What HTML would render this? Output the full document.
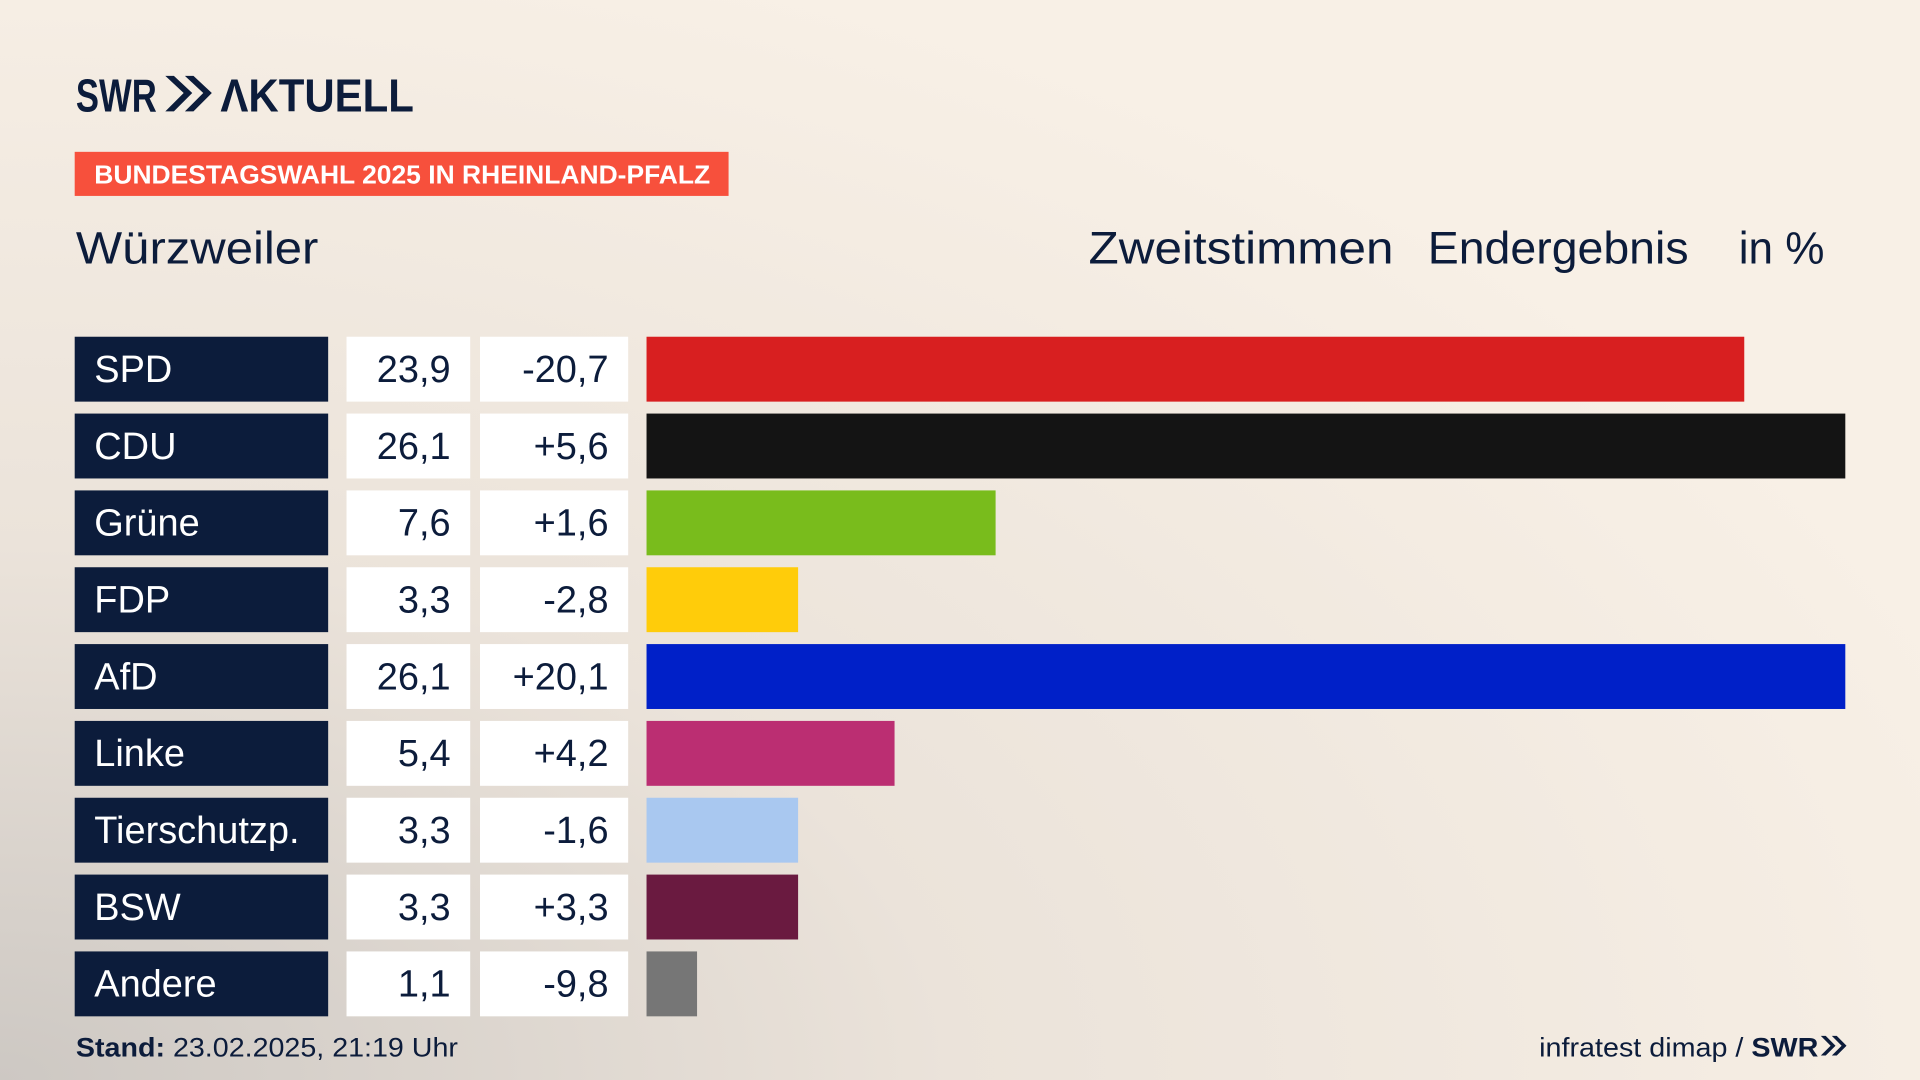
<!DOCTYPE html>
<html><head><meta charset="utf-8">
<style>
html,body{margin:0;padding:0;width:1920px;height:1080px;overflow:hidden;background:#f7efe5}
svg{display:block}
text{font-family:"Liberation Sans","DejaVu Sans",sans-serif}
</style></head>
<body>
<svg id="chart" width="1920" height="1080" viewBox="0 0 1568 882" xmlns="http://www.w3.org/2000/svg">
<defs>
<radialGradient id="bg" cx="0" cy="1" r="1.1">
<stop offset="0" stop-color="#cdc8c3"/>
<stop offset="0.45" stop-color="#ebe3da"/>
<stop offset="1" stop-color="#f8f0e6"/>
</radialGradient>
</defs>
<rect x="0" y="0" width="1568" height="882" fill="url(#bg)"/>
<g fill="#0c1c3b">
<text x="62" y="91" font-size="38" font-weight="bold" textLength="66" lengthAdjust="spacingAndGlyphs">SWR</text>
<path d="M135 62 L150 76 L135 91 L142 91 L157 76 L142 62 Z M151 62 L166 76 L151 91 L158 91 L173 76 L158 62 Z"/>
<text x="180" y="91" font-size="38" font-weight="bold" textLength="158" lengthAdjust="spacingAndGlyphs">ΛKTUELL</text>
</g>
<rect x="61" y="124" width="534" height="36" fill="#f7503c"/>
<text x="77" y="150" font-size="21" font-weight="bold" fill="#fff" textLength="503" lengthAdjust="spacingAndGlyphs">BUNDESTAGSWAHL 2025 IN RHEINLAND-PFALZ</text>
<text x="62" y="215" font-size="37" fill="#0c1c3b" textLength="198" lengthAdjust="spacingAndGlyphs">Würzweiler</text>
<text x="889" y="215" font-size="37" fill="#0c1c3b" textLength="249" lengthAdjust="spacingAndGlyphs">Zweitstimmen</text>
<text x="1166" y="215" font-size="37" fill="#0c1c3b" textLength="213" lengthAdjust="spacingAndGlyphs">Endergebnis</text>
<text x="1420" y="215" font-size="37" fill="#0c1c3b" textLength="70" lengthAdjust="spacingAndGlyphs">in %</text>
<g id="rows"></g>
<text x="62" y="863" font-size="22" fill="#0c1c3b" textLength="312" lengthAdjust="spacingAndGlyphs"><tspan font-weight="bold">Stand:</tspan> 23.02.2025, 21:19 Uhr</text>
<text x="1257" y="863" font-size="22" fill="#0c1c3b" textLength="228" lengthAdjust="spacingAndGlyphs">infratest dimap / <tspan font-weight="bold">SWR</tspan></text>
<path fill="#0c1c3b" d="M1487 846 L1495 854 L1487 862 L1491 862 L1499 854 L1491 846 Z M1496 846 L1504 854 L1496 862 L1500 862 L1508 854 L1500 846 Z"/>
</svg>
<script>
const parties = ["SPD","CDU","Grüne","FDP","AfD","Linke","Tierschutzp.","BSW","Andere"];
const shares = [23.9,26.1,7.6,3.3,26.1,5.4,3.3,3.3,1.1];
const changes = ["-20,7","+5,6","+1,6","-2,8","+20,1","+4,2","-1,6","+3,3","-9,8"];
const colors = ["#d81f20","#141414","#79bc1c","#ffcc0a","#0020c8","#bb2e72","#a9c8f0","#6a1a40","#767676"];
const NS = "http://www.w3.org/2000/svg";
const g = document.getElementById("rows");
const x0 = 528, xMax = 1507, maxV = 26.1;
const xScale = v => (v / maxV) * (xMax - x0);
const yTop = 275, pitch = 62.75, h = 53;
function mk(tag, attrs, parent){const e=document.createElementNS(NS,tag);for(const k in attrs)e.setAttribute(k,attrs[k]);parent.appendChild(e);return e;}
parties.forEach((p,i)=>{
  const y = yTop + i*pitch;
  const row = mk("g",{},g);
  
  
  const nb = mk("rect",{x:61,y:y,width:207,height:h,fill:"#0c1c3b"},row);
  
  
  const nt = mk("text",{x:77,y:y+37,"font-size":31,fill:"#fff"},row); nt.textContent=p;
  
  
  const vb = mk("rect",{x:283,y:y,width:101,height:h,fill:"#fff"},row);
  
  
  const vt = mk("text",{x:368,y:y+37,"font-size":31,fill:"#0c1c3b","text-anchor":"end"},row);
  vt.textContent = shares[i].toFixed(1).replace(".",",");
  
  
  const db = mk("rect",{x:392,y:y,width:121,height:h,fill:"#fff"},row);
  
  
  const dt = mk("text",{x:497,y:y+37,"font-size":31,fill:"#0c1c3b","text-anchor":"end"},row);
  dt.textContent = changes[i];
  
  
  const bar = mk("rect",{x:x0,y:y,width:xScale(shares[i]),height:h,fill:colors[i]},row);
  
  
});
</script>
</body></html>
